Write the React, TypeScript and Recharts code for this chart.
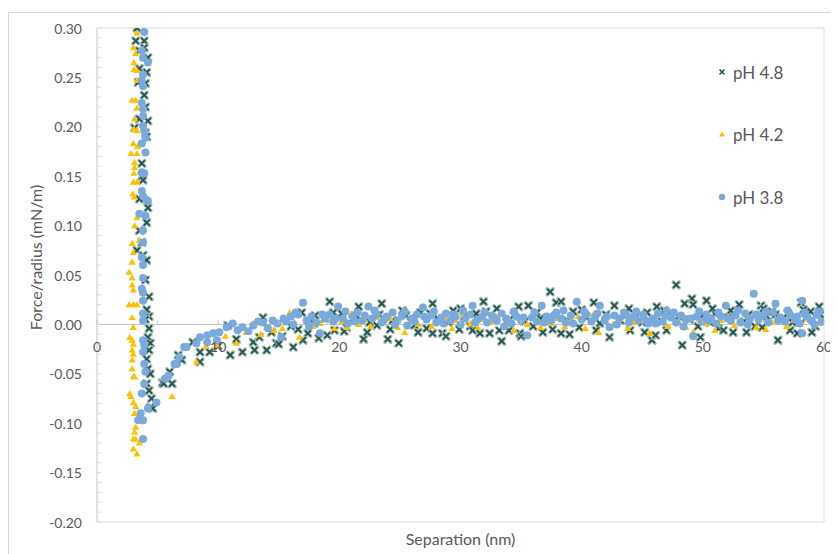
import React from 'react';
import { ScatterChart, Scatter, XAxis, YAxis, ReferenceLine, ReferenceArea, Legend } from 'recharts';

// ---------- data (separation nm, force/radius mN/m) ----------
const ph48Wall: [number, number][] = [
  [3.3, 0.300], [3.2, 0.287], [3.9, 0.287], [3.9, 0.280], [3.5, 0.277], [4.2, 0.270], [4.1, 0.255], [3.5, 0.259],
  [4.0, 0.244], [3.4, 0.245], [3.9, 0.232], [4.0, 0.220], [4.2, 0.206], [3.5, 0.208], [3.1, 0.199], [4.0, 0.194],
  [4.1, 0.190], [3.7, 0.163], [3.7, 0.150], [3.8, 0.146], [3.5, 0.127], [4.2, 0.118], [4.1, 0.103], [3.5, 0.095],
  [3.7, 0.083], [3.3, 0.075], [3.8, 0.070], [4.1, 0.065], [4.0, 0.045], [4.3, 0.028], [4.1, 0.015], [4.3, 0.008],
  [4.0, 0.005], [4.3, -0.004], [4.2, -0.013], [4.4, -0.019], [4.3, -0.026], [4.1, -0.035], [4.2, -0.045], [4.4, -0.050],
  [4.1, -0.060], [4.3, -0.067], [4.5, -0.075], [4.4, -0.084], [4.6, -0.085],
];
const ph48Tail: [number, number][] = [
  [5.4, -0.059], [5.5, -0.060], [6.2, -0.060], [6.0, -0.048], [6.7, -0.031], [7.0, -0.036], [7.9, -0.018], [8.5, -0.038],
  [8.5, -0.028], [9.3, -0.028], [10.0, -0.022], [10.8, -0.001], [11.0, -0.031], [11.5, -0.015], [12.0, -0.028], [12.9, -0.018],
  [13.0, -0.026], [13.4, -0.013], [13.7, 0.007], [14.0, -0.026], [14.4, -0.008], [14.8, -0.019],
  [15.3, -0.012], [15.7, 0.004], [16.2, -0.023], [16.6, -0.005], [16.9, 0.012], [17.4, -0.009], [17.9, 0.001], [18.3, -0.014],
  [18.8, 0.006], [19.2, 0.023], [19.5, 0.012], [19.6, -0.006], [20.2, 0.011], [20.6, -0.003], [21.1, 0.005], [21.6, 0.018],
  [22.0, -0.015], [22.5, 0.002], [23.1, -0.001], [23.5, 0.021], [24.0, -0.015], [24.4, 0.004], [24.9, -0.019], [25.5, 0.009],
  [25.9, 0.003], [26.2, -0.001], [26.7, 0.012], [27.2, -0.004], [27.7, 0.021], [27.7, -0.009], [28.1, 0.006], [28.5, -0.009],
  [29.0, 0.002], [29.4, 0.014], [29.9, -0.005], [30.3, 0.008], [30.8, -0.002], [31.3, 0.011], [31.6, -0.009], [31.9, 0.023],
  [32.4, -0.009], [32.8, 0.005], [33.2, -0.006], [33.4, -0.017], [34.0, -0.006], [34.4, 0.009], [34.8, 0.018], [34.9, -0.009],
  [35.3, 0.003], [35.6, 0.019], [36.0, -0.002], [36.3, 0.012], [36.8, -0.008], [37.4, 0.033], [37.9, 0.022], [38.3, 0.023],
  [38.3, -0.009], [38.8, 0.004], [39.3, 0.013], [39.8, -0.003], [40.4, 0.007], [41.0, 0.022], [41.5, 0.001], [42.3, -0.013],
  [42.7, 0.019], [43.2, 0.004], [43.6, 0.010], [44.0, -0.006], [44.5, 0.008], [45.0, 0.002], [45.4, 0.012], [45.8, -0.016],
  [46.1, -0.011], [46.2, 0.018], [46.6, 0.003], [47.0, -0.006], [47.4, 0.009], [47.8, 0.040], [48.3, -0.021], [48.5, 0.021],
  [48.9, 0.005], [49.1, 0.026], [49.2, 0.020], [49.6, -0.002], [50.0, 0.009], [50.3, 0.024], [50.6, 0.002], [51.0, 0.011],
  [51.3, -0.004], [51.7, -0.006], [52.1, 0.007], [52.5, -0.008], [53.0, 0.020], [53.4, 0.003], [53.8, 0.010], [54.3, -0.002],
  [54.8, 0.019], [54.9, -0.003], [55.3, 0.008], [55.7, 0.013], [56.2, -0.016], [56.6, 0.005], [57.0, 0.011], [57.4, 0.002],
  [57.8, -0.009], [58.1, 0.022], [58.5, 0.006], [58.9, 0.013], [59.3, -0.002], [59.6, 0.018], [59.9, 0.006],
];
const ph48Extra: [number, number][] = [
  [15.0, -0.020], [16.0, -0.002], [17.0, -0.016], [18.0, 0.009], [19.0, -0.011], [20.4, -0.007], [21.4, 0.009], [22.3, -0.008],
  [23.3, 0.010], [24.2, -0.005], [25.2, 0.014], [26.5, -0.008], [27.5, 0.011], [28.8, -0.012], [30.0, 0.016], [31.0, -0.006],
  [32.1, 0.013], [33.0, 0.016], [33.8, 0.002], [35.0, -0.012], [36.6, 0.006], [37.6, -0.005], [39.0, -0.010], [40.0, 0.015],
  [41.2, -0.006], [42.0, 0.010], [43.9, 0.016], [45.2, -0.008], [46.8, 0.014], [48.0, 0.008], [49.8, -0.013], [50.8, 0.016],
  [52.3, 0.014], [53.6, -0.008], [55.0, 0.016], [56.0, 0.010], [57.2, -0.006], [58.3, 0.015], [59.0, -0.008], [59.7, 0.010],
];

const ph42Wall: [number, number][] = [
  [3.3, 0.295], [3.0, 0.280], [3.2, 0.274], [3.05, 0.265], [3.05, 0.258], [3.3, 0.257], [3.3, 0.247], [2.9, 0.227],
  [3.2, 0.227], [3.3, 0.219], [3.1, 0.208], [3.05, 0.198], [3.3, 0.196], [3.0, 0.183], [3.35, 0.180], [2.8, 0.173],
  [3.3, 0.173], [3.1, 0.164], [3.1, 0.159], [3.05, 0.153], [3.0, 0.144], [3.3, 0.144], [2.95, 0.132], [3.1, 0.129],
  [3.3, 0.108], [3.1, 0.100], [3.5, 0.085], [2.9, 0.082], [3.0, 0.073], [2.9, 0.063], [2.65, 0.053], [2.9, 0.047],
  [2.9, 0.040], [3.0, 0.035], [2.65, 0.020], [3.0, 0.020], [3.3, 0.020], [2.9, 0.007], [3.0, -0.003], [2.7, -0.013],
  [2.9, -0.016], [3.0, -0.020], [2.9, -0.026], [3.0, -0.030], [2.9, -0.036], [2.9, -0.045], [3.0, -0.053], [3.1, -0.053],
  [2.7, -0.070], [2.8, -0.073], [3.0, -0.079], [3.2, -0.083], [3.1, -0.090], [3.3, -0.095], [3.2, -0.104], [3.1, -0.109],
  [3.0, -0.116], [3.2, -0.116], [3.5, -0.120], [3.0, -0.126], [3.3, -0.131],
];
const ph42Tail: [number, number][] = [
  [6.2, -0.073], [8.2, -0.038], [9.0, -0.022], [9.9, -0.021], [10.6, -0.012], [11.5, -0.019], [12.3, -0.008], [12.9, 0.001],
  [13.5, -0.010], [14.0, -0.003], [14.6, -0.006],
  [15.3, -0.004], [15.9, 0.012], [16.3, 0.002], [16.7, -0.013], [17.3, 0.004], [17.8, -0.002], [18.4, 0.001], [19.0, 0.006],
  [19.6, -0.004], [20.2, 0.003], [20.6, -0.003], [21.0, 0.011], [21.6, 0.000], [22.1, 0.005], [22.6, -0.002], [23.1, 0.007],
  [23.6, 0.002], [24.2, 0.006], [24.8, -0.003], [25.4, -0.008], [25.9, 0.004], [26.5, 0.000], [27.1, 0.008], [27.6, -0.002],
  [28.2, 0.003], [28.8, 0.006], [29.3, -0.004], [29.6, 0.004], [30.2, 0.009], [30.8, 0.001], [31.4, -0.003], [31.9, 0.005],
  [32.5, 0.002], [33.0, 0.008], [33.6, -0.002], [34.0, 0.003], [34.4, -0.006], [35.0, 0.004], [35.5, 0.000], [36.1, 0.007],
  [36.6, -0.003], [37.0, 0.003], [37.4, 0.001], [38.0, 0.006], [38.6, -0.002], [39.2, 0.004], [39.7, 0.008], [40.3, -0.004],
  [41.0, 0.011], [41.4, -0.008], [42.0, 0.003], [42.6, 0.000], [43.2, 0.005], [43.8, -0.004], [44.3, 0.002], [44.9, 0.007],
  [45.6, -0.009], [46.1, 0.001], [46.6, 0.004], [47.1, -0.002], [47.5, 0.011], [48.0, 0.003], [48.6, -0.003], [49.2, -0.008],
  [49.7, 0.005], [50.3, 0.001], [51.0, -0.006], [51.5, 0.004], [52.1, 0.008], [52.6, -0.001], [53.2, 0.003], [53.8, 0.006],
  [54.4, -0.003], [55.2, -0.005], [55.7, 0.002], [56.3, 0.007], [56.9, -0.002], [57.5, 0.004], [58.0, 0.000], [58.6, 0.006],
  [59.3, 0.011], [59.6, 0.001],
];

const ph38Wall: [number, number][] = [
  [3.9, 0.296], [3.7, 0.277], [3.8, 0.270], [4.2, 0.265], [3.8, 0.253], [3.7, 0.247], [3.8, 0.241], [3.7, 0.224],
  [3.8, 0.218], [3.8, 0.211], [3.8, 0.201], [3.9, 0.196], [4.0, 0.189], [3.7, 0.183], [4.0, 0.174], [3.7, 0.154],
  [3.9, 0.153], [3.7, 0.135], [3.8, 0.130], [4.1, 0.126], [4.2, 0.125], [3.5, 0.112], [4.0, 0.110], [3.8, 0.095],
  [3.8, 0.083], [3.7, 0.068], [3.8, 0.060], [3.8, 0.047], [3.7, 0.036], [3.8, 0.032], [3.8, 0.024], [3.8, 0.011],
  [3.8, 0.004], [3.8, -0.016], [3.9, -0.021], [3.8, -0.028], [3.9, -0.040], [4.0, -0.048], [3.9, -0.060], [3.7, -0.070],
  [3.6, -0.090], [3.4, -0.097], [3.8, -0.097], [3.8, -0.116],
];
const ph38Tail: [number, number][] = [
  [4.2, -0.085], [4.9, -0.079], [5.6, -0.055], [5.9, -0.052], [6.4, -0.040], [6.6, -0.040], [6.8, -0.033], [7.2, -0.023],
  [7.4, -0.023], [8.2, -0.019], [8.5, -0.013], [9.1, -0.018], [9.1, -0.011], [9.6, -0.009], [9.9, -0.016], [10.1, -0.008],
  [10.7, -0.003], [11.2, 0.001], [11.6, -0.006], [12.0, -0.003], [12.5, -0.007], [12.9, -0.001], [13.3, 0.003], [13.7, 0.002],
  [14.1, -0.004], [14.5, 0.004], [14.9, 0.001],
  [15.2, -0.013], [15.6, 0.003], [16.0, 0.008], [16.2, 0.000], [16.6, 0.010], [17.0, 0.022], [17.3, 0.004], [17.7, 0.008],
  [18.1, 0.002], [18.4, -0.009], [18.8, 0.006], [19.2, 0.010], [19.5, 0.003], [19.9, 0.018], [20.3, 0.006], [20.7, 0.001],
  [21.1, 0.008], [21.5, 0.012], [21.9, 0.004], [22.4, 0.018], [22.7, 0.006], [23.1, 0.010], [23.5, 0.002], [23.9, 0.008],
  [24.4, 0.012], [24.8, 0.004], [25.2, 0.009], [25.6, -0.001], [26.0, 0.006], [26.4, 0.010], [26.9, 0.017], [27.2, 0.005],
  [27.6, 0.009], [28.0, 0.002], [28.4, 0.007], [28.8, 0.011], [29.2, 0.004], [29.6, 0.008], [30.0, 0.000], [30.4, 0.006],
  [30.8, 0.010], [31.0, 0.019], [31.4, 0.005], [31.8, 0.008], [32.2, 0.002], [32.6, 0.009], [33.0, 0.004], [33.4, 0.011],
  [33.8, 0.006], [34.2, 0.001], [34.6, 0.008], [35.0, 0.004], [35.5, -0.011], [35.9, 0.007], [36.3, 0.003], [36.7, 0.019],
  [37.1, 0.008], [37.5, 0.004], [37.9, 0.012], [38.3, 0.006], [38.7, 0.002], [39.1, 0.009], [39.6, 0.023], [40.0, 0.005],
  [40.4, 0.010], [40.8, 0.003], [41.1, 0.007], [41.5, 0.019], [41.9, 0.004], [42.3, -0.003], [42.7, 0.009], [43.1, 0.006],
  [43.5, 0.012], [43.9, 0.002], [44.3, 0.008], [44.7, 0.004], [45.1, 0.010], [45.5, 0.001], [45.9, 0.006], [46.3, 0.011],
  [46.7, 0.003], [47.0, 0.014], [47.4, 0.007], [47.8, 0.002], [48.2, 0.009], [48.6, 0.005], [49.2, -0.012], [49.5, 0.008],
  [49.9, 0.003], [50.3, 0.010], [50.7, 0.006], [51.1, 0.001], [51.5, 0.008], [51.9, 0.019], [52.3, 0.004], [52.7, 0.009],
  [53.1, 0.002], [53.5, 0.011], [53.9, 0.006], [54.2, 0.031], [54.6, 0.005], [55.0, 0.009], [55.4, 0.002], [55.8, 0.012],
  [56.0, 0.021], [56.4, 0.007], [56.8, 0.003], [57.2, 0.010], [57.6, 0.005], [58.0, 0.001], [58.2, 0.024], [58.2, -0.009],
  [58.6, 0.008], [59.0, 0.004], [59.4, 0.010], [59.8, 0.003],
];
const ph38Extra: [number, number][] = [
  [15.4, 0.006], [16.4, 0.012], [17.5, -0.002], [18.6, 0.010], [19.7, 0.006], [20.5, 0.013], [21.3, 0.003], [22.1, 0.009],
  [22.9, 0.014], [23.7, 0.005], [24.6, 0.000], [25.4, 0.013], [26.2, 0.003], [27.0, 0.008], [27.8, 0.013], [28.6, 0.001],
  [29.4, 0.010], [30.2, 0.014], [31.2, 0.002], [32.0, 0.012], [32.8, 0.006], [33.6, -0.002], [34.4, 0.013], [35.2, 0.007],
  [36.1, 0.012], [36.9, 0.002], [37.7, 0.009], [38.5, 0.014], [39.3, 0.001], [40.2, 0.013], [41.3, 0.011], [42.1, 0.008],
  [42.9, 0.000], [43.7, 0.009], [44.5, 0.013], [45.3, 0.004], [46.1, 0.001], [46.9, 0.009], [47.6, 0.012], [48.4, -0.002],
  [49.0, 0.006], [49.7, 0.013], [50.5, 0.004], [51.3, 0.012], [52.1, 0.006], [52.9, 0.014], [53.7, 0.000], [54.4, 0.010],
  [55.2, 0.013], [56.2, 0.004], [57.0, 0.014], [57.8, 0.008], [58.4, 0.012], [59.2, 0.000], [59.6, 0.013],
];

const seriesNames = ['pH 4.8', 'pH 4.2', 'pH 3.8'];
const xTicks = [0, 5, 10, 15, 20, 25, 30, 35, 40, 45, 50, 55, 60];
const xLabelTicks = [0, 10, 20, 30, 40, 50, 60];
const yTicks = [
  -0.2, -0.19, -0.18, -0.17, -0.16, -0.15, -0.14, -0.13, -0.12, -0.11,
  -0.1, -0.09, -0.08, -0.07, -0.06, -0.05, -0.04, -0.03, -0.02, -0.01,
  0, 0.01, 0.02, 0.03, 0.04, 0.05, 0.06, 0.07, 0.08, 0.09,
  0.1, 0.11, 0.12, 0.13, 0.14, 0.15, 0.16, 0.17, 0.18, 0.19,
  0.2, 0.21, 0.22, 0.23, 0.24, 0.25, 0.26, 0.27, 0.28, 0.29, 0.3,
];
const yLabelTicks = [-0.2, -0.15, -0.1, -0.05, 0, 0.05, 0.1, 0.15, 0.2, 0.25, 0.3];

const toPts = (a: [number, number][]) => a.map(([x, y]) => ({ x, y }));
const d48 = toPts([...ph48Wall, ...ph48Tail, ...ph48Extra]);
const d42 = toPts([...ph42Wall, ...ph42Tail]);
const d38 = toPts([...ph38Wall, ...ph38Tail, ...ph38Extra]);

// ---------- layout / style ----------
const W = 830;
const H = 546;
const M = { top: 20, right: 14, bottom: 0, left: 0 };
const YW = 89;
const XH = 32;
const PL = M.left + YW;
const PT = M.top;
const PW = W - M.left - M.right - YW;
const PH = H - M.top - M.bottom - XH;
const Y_MIN = -0.2;
const Y_MAX = 0.3;
const ZERO_Y = PT + (PH * (Y_MAX - 0)) / (Y_MAX - Y_MIN);
const FONT = 'Lato, "Open Sans", "DejaVu Sans", sans-serif';
const TXT = '#595959';
const C48 = '#24524A';
const C48_HALO = '#9FBBB4';
const C42 = '#FFC000';
const C38 = '#7AAADB';

const XMark = (p: any) => {
  const { cx, cy } = p;
  if (cx == null || cy == null) return null;
  const s = 3;
  const d = `M${cx - s},${cy - s}L${cx + s},${cy + s}M${cx - s},${cy + s}L${cx + s},${cy - s}`;
  return (
    <g>
      <path d={d} stroke={C48_HALO} strokeWidth={3.4} strokeLinecap="round" fill="none" />
      <path d={d} stroke={C48} strokeWidth={1.7} fill="none" />
    </g>
  );
};
const TriMark = (p: any) => {
  const { cx, cy } = p;
  if (cx == null || cy == null) return null;
  return <path d={`M${cx},${cy - 3.6}L${cx + 3.6},${cy + 2.6}L${cx - 3.6},${cy + 2.6}Z`} fill={C42} />;
};
const DotMark = (p: any) => {
  const { cx, cy } = p;
  if (cx == null || cy == null) return null;
  return <circle cx={cx} cy={cy} r={4} fill={C38} />;
};

const XTick = (p: any) => {
  const { x, payload } = p;
  const v = payload.value;
  return (
    <g>
      <line x1={x} x2={x} y1={ZERO_Y} y2={ZERO_Y - 4} stroke="#bfbfbf" />
      {xLabelTicks.includes(v) && (
        <text x={x} y={ZERO_Y + 22} textAnchor="middle" dominantBaseline="central" fontSize={14} fontFamily={FONT} fill={TXT}>
          {v}
        </text>
      )}
    </g>
  );
};

const YTick = (p: any) => {
  const { y, payload } = p;
  const v = payload.value;
  const isLabel = yLabelTicks.some((t) => Math.abs(t - v) < 1e-9);
  return (
    <g>
      <line x1={PL} x2={PL + 4} y1={y} y2={y} stroke="#d9d9d9" />
      {isLabel && (
        <text x={PL - 15} y={y} textAnchor="end" dominantBaseline="central" fontSize={14} fontFamily={FONT} fill={TXT}>
          {v.toFixed(2)}
        </text>
      )}
    </g>
  );
};

const LegendBox = () => {
  const rows = [
    { name: seriesNames[0], mark: 'x' },
    { name: seriesNames[1], mark: 't' },
    { name: seriesNames[2], mark: 'c' },
  ];
  return (
    <svg width={110} height={160} style={{ display: 'block' }}>
      {rows.map((r, i) => {
        const cy = 14 + i * 62.5;
        const cx = 9;
        return (
          <g key={r.name}>
            {r.mark === 'x' && (
              <path d={`M${cx - 2.5},${cy - 2.5}L${cx + 2.5},${cy + 2.5}M${cx - 2.5},${cy + 2.5}L${cx + 2.5},${cy - 2.5}`} stroke={C48} strokeWidth={1.6} />
            )}
            {r.mark === 't' && <path d={`M${cx},${cy - 3}L${cx + 3},${cy + 2}L${cx - 3},${cy + 2}Z`} fill={C42} />}
            {r.mark === 'c' && <circle cx={cx} cy={cy} r={3.2} fill={C38} />}
            <text x={20} y={cy} dominantBaseline="central" fontSize={17} fontFamily={FONT} fill={TXT}>
              {r.name}
            </text>
          </g>
        );
      })}
    </svg>
  );
};

export default function App() {
  return (
    <div style={{ position: 'relative', width: W, height: H }}>
      <div
        style={{
          position: 'absolute',
          left: 0,
          top: 4,
          width: W - 1,
          height: H - 5,
          borderTop: '1px solid #d9d9d9',
          borderLeft: '1px solid #d9d9d9',
          pointerEvents: 'none',
        }}
      />
      <ScatterChart width={W} height={H} margin={M} style={{ position: 'absolute', left: 0, top: 0 }}>
        <ReferenceArea x1={0} x2={60} y1={Y_MIN} y2={Y_MAX} fill="none" stroke="#d9d9d9" strokeOpacity={1} ifOverflow="visible" />
        <XAxis
          type="number"
          dataKey="x"
          domain={[0, 60]}
          ticks={xTicks}
          interval={0}
          allowDataOverflow
          axisLine={false}
          tickLine={false}
          height={XH}
          tick={<XTick />}
          label={
            <text x={PL + PW / 2} y={PT + PH + 15} textAnchor="middle" dominantBaseline="central" fontSize={16} fontFamily={FONT} fill={TXT}>
              Separation (nm)
            </text>
          }
        />
        <YAxis
          type="number"
          dataKey="y"
          domain={[Y_MIN, Y_MAX]}
          ticks={yTicks}
          interval={0}
          allowDataOverflow
          width={YW}
          axisLine={{ stroke: '#d9d9d9' }}
          tickLine={false}
          tick={<YTick />}
          label={
            <text
              x={27}
              y={PT + PH / 2}
              textAnchor="middle"
              dominantBaseline="central"
              fontSize={16}
              fontFamily={FONT}
              fill={TXT}
              transform={`rotate(-90 27 ${PT + PH / 2})`}
            >
              Force/radius (mN/m)
            </text>
          }
        />
        <ReferenceLine y={0} stroke="#bfbfbf" />
        <Scatter name={seriesNames[0]} data={d48} shape={XMark} isAnimationActive={false} />
        <Scatter name={seriesNames[1]} data={d42} shape={TriMark} isAnimationActive={false} />
        <Scatter name={seriesNames[2]} data={d38} shape={DotMark} isAnimationActive={false} />
        <Legend
          layout="horizontal"
          verticalAlign="middle"
          align="center"
          content={<LegendBox />}
          wrapperStyle={{ position: 'absolute', left: 705, top: 50, width: 110, height: 160, margin: 0 }}
        />
      </ScatterChart>
    </div>
  );
}
